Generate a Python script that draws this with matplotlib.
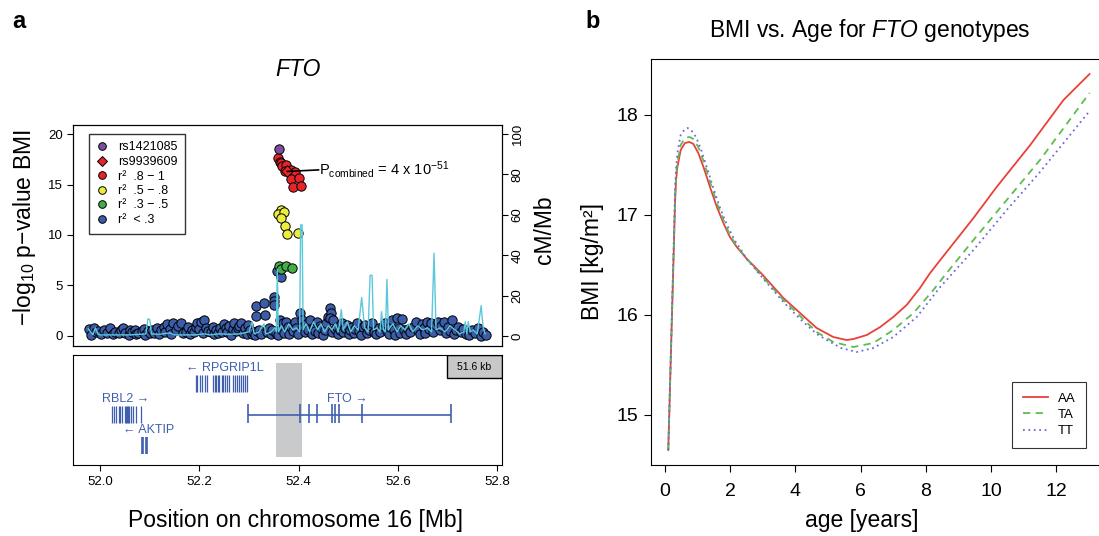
import numpy as np
import matplotlib
matplotlib.use("Agg")
import matplotlib.pyplot as plt
from matplotlib.lines import Line2D
from matplotlib.patches import Rectangle

plt.rcParams['font.family'] = ['Liberation Sans', 'DejaVu Sans']
plt.rcParams['mathtext.fontset'] = 'custom'
plt.rcParams['mathtext.rm'] = 'Liberation Sans'
plt.rcParams['mathtext.it'] = 'Liberation Sans:italic'
plt.rcParams['mathtext.default'] = 'regular'

# ---------------- panel a data ----------------
# background SNPs (r2 < .3): position [Mb], -log10 p
bg_pos = [51.978, 51.982, 51.987, 51.991, 51.996, 52.002, 52.008, 52.013, 52.020, 52.025,
          52.030, 52.037, 52.041, 52.045, 52.050, 52.057, 52.060, 52.064, 52.070, 52.073,
          52.077, 52.084, 52.088, 52.091, 52.096, 52.100, 52.105, 52.108, 52.114, 52.118,
          52.122, 52.128, 52.131, 52.135, 52.140, 52.143, 52.147, 52.152, 52.156, 52.162,
          52.166, 52.172, 52.176, 52.180, 52.184, 52.189, 52.193, 52.196, 52.200, 52.203,
          52.207, 52.210, 52.214, 52.218, 52.223, 52.227, 52.230, 52.234, 52.237, 52.241,
          52.245, 52.250, 52.253, 52.256, 52.260, 52.263, 52.267, 52.270, 52.273, 52.277,
          52.280, 52.284, 52.288, 52.291, 52.295, 52.298, 52.302, 52.305, 52.308, 52.312,
          52.314, 52.314, 52.317, 52.321, 52.325, 52.330, 52.333, 52.336, 52.341, 52.344,
          52.347, 52.350, 52.350, 52.351, 52.354, 52.357, 52.364, 52.359, 52.362, 52.365,
          52.368, 52.371, 52.375, 52.378, 52.381, 52.385, 52.388, 52.392, 52.395, 52.398,
          52.402, 52.406, 52.409, 52.412, 52.415, 52.418, 52.422, 52.426, 52.430, 52.433,
          52.436, 52.440, 52.443, 52.446, 52.450, 52.453, 52.456, 52.460, 52.464, 52.465,
          52.463, 52.467, 52.470, 52.474, 52.477, 52.480, 52.484, 52.487, 52.490, 52.494,
          52.497, 52.501, 52.504, 52.507, 52.511, 52.514, 52.517, 52.521, 52.525, 52.529,
          52.534, 52.538, 52.541, 52.545, 52.548, 52.552, 52.556, 52.561, 52.565, 52.570,
          52.575, 52.578, 52.582, 52.585, 52.588, 52.592, 52.595, 52.598, 52.602, 52.605,
          52.609, 52.612, 52.616, 52.620, 52.625, 52.630, 52.636, 52.640, 52.644, 52.648,
          52.652, 52.655, 52.659, 52.663, 52.667, 52.671, 52.676, 52.680, 52.684, 52.688,
          52.693, 52.697, 52.701, 52.706, 52.710, 52.714, 52.717, 52.722, 52.727, 52.732,
          52.737, 52.744, 52.750, 52.756, 52.762, 52.767, 52.772, 52.777]
bg_logp = [0.66, 0.05, 0.82, 0.35, 0.53, 0.20, 0.60, 0.30, 0.76, 0.15,
           0.43, 0.27, 0.55, 0.76, 0.33, 0.10, 0.60, 0.43, 0.60, 0.20,
           0.33, 0.53, 0.70, 0.10, 0.45, 0.25, 0.60, 0.33, 0.76, 0.15,
           0.60, 0.92, 0.40, 1.16, 0.65, 0.20, 1.26, 0.60, 0.95, 1.32,
           0.30, 0.43, 0.85, 0.15, 0.60, 0.43, 0.90, 1.26, 0.70, 1.42,
           0.25, 1.59, 0.80, 0.50, 0.43, 0.90, 0.20, 0.60, 0.27, 0.75,
           0.35, 1.19, 0.80, 0.40, 0.95, 0.10, 0.70, 1.32, 0.50, 0.76,
           1.00, 1.26, 0.30, 0.80, 0.15, 1.09, 0.55, 0.20, 0.43, 0.10,
           1.98, 2.98, 0.50, 0.60, 0.20, 3.30, 2.08, 0.40, 0.76, 0.15,
           0.55, 3.90, 3.45, 3.07, 0.30, 6.45, 5.82, 0.10, 1.59, 0.70,
           1.26, 0.30, 1.42, 0.90, 0.20, 0.92, 0.50, 1.42, 0.80, 0.15,
           2.31, 1.59, 0.90, 0.40, 1.20, 0.60, 1.59, 0.20, 0.90, 0.50,
           1.42, 0.30, 1.00, 0.76, 0.10, 0.60, 1.26, 1.91, 2.75, 2.31,
           1.75, 0.40, 1.59, 0.70, 0.92, 0.20, 0.60, 1.26, 0.35, 0.80,
           1.09, 0.15, 0.55, 0.92, 0.30, 0.70, 1.26, 0.45, 0.10, 0.85,
           1.09, 0.30, 0.60, 0.95, 1.26, 0.40, 0.15, 0.76, 0.40, 1.00,
           1.26, 0.50, 0.20, 0.90, 1.59, 0.60, 0.10, 1.75, 0.80, 0.30,
           1.65, 0.60, 0.20, 0.70, 0.35, 0.90, 1.42, 0.60, 0.15, 1.20,
           0.80, 0.30, 1.42, 0.70, 1.30, 0.40, 1.09, 1.40, 0.60, 1.00,
           1.42, 0.30, 0.90, 0.50, 1.59, 0.20, 0.60, 0.90, 0.35, 0.70,
           0.15, 0.10, 0.60, 0.30, 0.80, 0.03, 0.40, 0.10]

green_pos = [52.360, 52.365, 52.375, 52.387]
green_logp = [6.97, 6.65, 6.88, 6.71]
yellow_pos = [52.365, 52.358, 52.370, 52.364, 52.373, 52.377, 52.398]
yellow_logp = [12.43, 12.10, 12.23, 11.67, 10.91, 10.09, 10.15]
red_pos = [52.358, 52.362, 52.365, 52.367, 52.375, 52.372, 52.385, 52.392,
           52.384, 52.401, 52.389, 52.404]
red_logp = [17.62, 17.19, 17.13, 16.80, 16.96, 16.30, 16.47, 16.20,
            15.54, 15.64, 14.72, 14.82]
rs1421085 = (52.360, 18.52)
rs9939609 = (52.377, 16.30)

# recombination rate [cM/Mb]
rec_pos = [51.976, 51.985, 51.990, 51.995, 52.000, 52.020, 52.040, 52.060, 52.080, 52.092,
           52.096, 52.100, 52.103, 52.120, 52.140, 52.150, 52.170, 52.190, 52.210, 52.220,
           52.240, 52.260, 52.280, 52.300, 52.306, 52.310, 52.320, 52.330, 52.334, 52.345,
           52.352, 52.355, 52.357, 52.359, 52.365, 52.372, 52.380, 52.388, 52.395, 52.402,
           52.404, 52.407, 52.409, 52.415, 52.422, 52.430, 52.438, 52.445, 52.452, 52.460,
           52.467, 52.474, 52.480, 52.486, 52.490, 52.498, 52.505, 52.512, 52.520, 52.527,
           52.533, 52.540, 52.544, 52.548, 52.551, 52.558, 52.564, 52.567, 52.571, 52.575,
           52.578, 52.581, 52.590, 52.598, 52.606, 52.614, 52.622, 52.630, 52.640, 52.650,
           52.660, 52.668, 52.673, 52.677, 52.685, 52.695, 52.705, 52.715, 52.725, 52.733,
           52.736, 52.739, 52.742, 52.746, 52.752, 52.760, 52.768, 52.772, 52.776]
rec_rate = [3.5, 0.5, 4, 1, 0.5, 0.5, 0.5, 0.5, 0.8, 1,
            8.5, 8, 1, 0.8, 1.5, 0.5, 0.5, 0.5, 1, 0.5,
            1, 0.8, 1, 2, 7, 1, 2, 6, 1, 2,
            4, 2, 33, 2, 5, 2, 6, 3, 4, 2,
            55, 55, 3, 6, 2, 7, 3, 6, 2, 5,
            3, 6, 2, 13, 3, 7, 2, 5, 3, 19,
            4, 2, 30, 30, 3, 4, 2, 12, 3, 2,
            28, 3, 6, 2, 5, 3, 6, 2, 5, 3,
            4, 2, 41, 3, 4, 2, 5, 3, 1, 2,
            7, 1, 7, 2, 3, 1, 15, 4, 1]

# genes: exon positions [Mb]
rpgrip1l_exons = [52.193, 52.196, 52.201, 52.206, 52.212, 52.215, 52.228, 52.231, 52.234,
                  52.237, 52.240, 52.245, 52.248, 52.252, 52.256, 52.260, 52.268, 52.272,
                  52.276, 52.280, 52.284, 52.288, 52.292, 52.296]
rbl2_exons = [52.024, 52.028, 52.032, 52.037, 52.040, 52.044, 52.049, 52.051, 52.053,
              52.055, 52.058, 52.061, 52.066, 52.073, 52.083]
aktip_exons = [52.084, 52.086, 52.092, 52.094]
fto_span = (52.298, 52.708)
fto_exons = [52.298, 52.402, 52.420, 52.436, 52.467, 52.473, 52.481, 52.527, 52.708]
highlight = (52.355, 52.406)

# ---------------- panel b data ----------------
age_aa = [0.10, 0.26, 0.31, 0.34, 0.38, 0.48, 0.61, 0.75, 0.87, 1.02, 1.18, 1.38, 1.59,
          1.79, 1.99, 2.20, 2.51, 2.97, 3.30, 3.63, 4.14, 4.65, 5.16, 5.57, 5.78, 6.19,
          6.60, 7.00, 7.41, 7.82, 8.13, 8.49, 9.46, 10.17, 11.20, 12.22, 13.02]
bmi_aa = [14.65, 16.55, 17.15, 17.35, 17.48, 17.65, 17.72, 17.73, 17.71, 17.62, 17.48,
          17.28, 17.08, 16.92, 16.78, 16.68, 16.56, 16.41, 16.29, 16.17, 16.02, 15.87,
          15.78, 15.75, 15.76, 15.80, 15.88, 15.98, 16.10, 16.27, 16.42, 16.57, 16.97,
          17.28, 17.70, 18.15, 18.41]
age_ta = [0.10, 0.26, 0.31, 0.34, 0.38, 0.48, 0.61, 0.75, 0.87, 1.02, 1.18, 1.38, 1.59,
          1.79, 1.99, 2.20, 2.51, 2.97, 3.63, 4.14, 4.65, 5.16, 5.78, 6.39, 7.00, 7.62,
          8.23, 8.54, 9.46, 10.48, 11.50, 13.02]
bmi_ta = [14.65, 16.58, 17.20, 17.40, 17.53, 17.70, 17.77, 17.78, 17.76, 17.68, 17.54,
          17.33, 17.12, 16.95, 16.80, 16.69, 16.56, 16.39, 16.15, 15.99, 15.83, 15.73,
          15.68, 15.72, 15.85, 16.02, 16.25, 16.38, 16.75, 17.15, 17.55, 18.22]
age_tt = [0.10, 0.26, 0.31, 0.34, 0.38, 0.48, 0.61, 0.69, 0.80, 0.95, 1.10, 1.30, 1.50,
          1.70, 1.90, 2.15, 2.51, 2.97, 3.63, 4.14, 4.65, 4.96, 5.40, 5.88, 6.39, 7.00,
          7.72, 8.44, 9.46, 10.48, 11.50, 13.02]
bmi_tt = [14.65, 16.62, 17.28, 17.47, 17.62, 17.80, 17.86, 17.87, 17.85, 17.78, 17.66,
          17.46, 17.25, 17.06, 16.90, 16.74, 16.56, 16.38, 16.13, 15.96, 15.81, 15.75,
          15.67, 15.63, 15.67, 15.78, 15.98, 16.28, 16.65, 17.05, 17.43, 18.04]

W, H = 1099, 536
fig = plt.figure(figsize=(W / 100, H / 100), dpi=100)

c_blue, c_green, c_yellow = '#3b5ca9', '#45ac4a', '#ecec3e'
c_red, c_purple, c_cyan = '#e8242a', '#7a4f9e', '#5cc8dc'
c_gene = '#3f5fae'

# ---- panel a: association plot ----
ax = fig.add_axes([73 / W, 1 - 346 / H, 429 / W, 221 / H])
ax.set_xlim(51.945, 52.81)
ax.set_ylim(-1.0, 20.9)
ax.set_xticks([])
ax.set_yticks([0, 5, 10, 15, 20])
ax.tick_params(axis='y', direction='out', length=4, labelsize=9.5, pad=3)

kw = dict(s=45, edgecolors='black', linewidths=0.7, zorder=3)
ax.scatter(bg_pos, bg_logp, color=c_blue, **kw)
ax.scatter(green_pos, green_logp, color=c_green, **kw)
ax.scatter(yellow_pos, yellow_logp, color=c_yellow, **kw)
ax.scatter(red_pos, red_logp, color=c_red, **kw)
ax.scatter(*rs9939609, color=c_red, marker='D', s=35, edgecolors='black', linewidths=0.7, zorder=4)
ax.scatter(*rs1421085, color=c_purple, **kw)

ax.plot([rs9939609[0], 52.440], [rs9939609[1], 16.45], color='black', lw=1.2, zorder=5)
ax.text(52.441, 16.45, r'P$_{\mathrm{combined}}$ = 4 x 10$^{-51}$', fontsize=10.5,
        va='center', ha='left', zorder=5)

handles = [Line2D([], [], ls='', marker='o', mfc=c_purple, mec='black', ms=5.5, mew=0.7),
           Line2D([], [], ls='', marker='D', mfc=c_red, mec='black', ms=5, mew=0.7),
           Line2D([], [], ls='', marker='o', mfc=c_red, mec='black', ms=5.5, mew=0.7),
           Line2D([], [], ls='', marker='o', mfc=c_yellow, mec='black', ms=5.5, mew=0.7),
           Line2D([], [], ls='', marker='o', mfc=c_green, mec='black', ms=5.5, mew=0.7),
           Line2D([], [], ls='', marker='o', mfc=c_blue, mec='black', ms=5.5, mew=0.7)]
labels = ['rs1421085', 'rs9939609', 'r²  .8 − 1', 'r²  .5 − .8', 'r²  .3 − .5', 'r²  < .3']
leg = ax.legend(handles, labels, loc='upper left', bbox_to_anchor=(89 / W, 1 - 134 / H),
                bbox_transform=fig.transFigure, fontsize=9, frameon=True, fancybox=False,
                edgecolor='black', handlelength=0.8, handletextpad=0.9, labelspacing=0.2,
                borderpad=0.6, borderaxespad=0)
leg.get_frame().set_linewidth(1.0)
leg.set_zorder(6)

ax2 = ax.twinx()
ax2.set_ylim(-5, 104.5)
ax2.plot(rec_pos, rec_rate, color=c_cyan, lw=1.0)
ax2.set_yticks([0, 20, 40, 60, 80, 100])
ax2.tick_params(axis='y', direction='out', length=4, labelsize=9.5, pad=3)
for t in ax2.get_yticklabels():
    t.set_rotation(90)
    t.set_va('center')

# ---- gene track ----
gax = fig.add_axes([73 / W, 1 - 465 / H, 429 / W, 110 / H])
gax.set_xlim(51.945, 52.81)
gax.set_ylim(1, 0)
gax.set_yticks([])
gax.set_xticks([52.0, 52.2, 52.4, 52.6, 52.8])
gax.set_xticklabels(['52.0', '52.2', '52.4', '52.6', '52.8'])
gax.tick_params(axis='x', direction='out', length=4, labelsize=9.5, pad=4)

gax.fill_betweenx([0.073, 0.927], highlight[0], highlight[1], color='#c8cacc', lw=0)
gax.vlines(rpgrip1l_exons, 0.182, 0.333, color=c_gene, lw=0.9)
gax.vlines(rbl2_exons, 0.464, 0.615, color=c_gene, lw=0.9)
gax.vlines(aktip_exons, 0.748, 0.90, color=c_gene, lw=1.2)
gax.hlines(0.545, fto_span[0], fto_span[1], color=c_gene, lw=1.2)
gax.vlines(fto_exons, 0.445, 0.615, color=c_gene, lw=1.2)
gkw = dict(color=c_gene, fontsize=9, ha='center', va='center')
gax.text(52.252, 0.115, '← RPGRIP1L', **gkw)
gax.text(52.052, 0.40, 'RBL2 →', **gkw)
gax.text(52.097, 0.68, '← AKTIP', **gkw)
gax.text(52.499, 0.40, 'FTO →', **gkw)
gax.add_patch(Rectangle((0.872, 0.791), 0.128, 0.209, transform=gax.transAxes,
                        facecolor='#c8c8c8', edgecolor='black', lw=1.0))
gax.text(0.936, 0.895, '51.6 kb', transform=gax.transAxes, fontsize=7.5,
         ha='center', va='center')

fig.text(12 / W, 1 - 22 / H, 'a', fontsize=17, fontweight='bold', va='center', ha='left')
fig.text(298 / W, 1 - 70 / H, 'FTO', fontsize=16.5, fontstyle='italic', ha='center', va='center')
fig.text(25 / W, 1 - 228 / H, '−log$_{10}$ p−value BMI', fontsize=16.5, rotation=90,
         ha='center', va='center')
fig.text(545 / W, 1 - 230 / H, 'cM/Mb', fontsize=16.5, rotation=90, ha='center', va='center')
fig.text(295 / W, 1 - 521 / H, 'Position on chromosome 16 [Mb]', fontsize=16.5,
         ha='center', va='center')

# ---- panel b: BMI vs age ----
bx = fig.add_axes([651 / W, 1 - 465 / H, 449 / W, 406 / H])
bx.set_xlim(-0.43, 13.34)
bx.set_ylim(14.5, 18.56)
bx.spines['right'].set_visible(False)
bx.plot(age_aa, bmi_aa, color='#e8413a', lw=1.3, label='AA')
bx.plot(age_ta, bmi_ta, color='#5fbb4f', lw=1.3, ls=(0, (4, 3)), label='TA')
bx.plot(age_tt, bmi_tt, color='#6b6bd8', lw=1.3, ls=(0, (1, 2)), label='TT')
bx.set_xticks([0, 2, 4, 6, 8, 10, 12])
bx.set_yticks([15, 16, 17, 18])
bx.tick_params(direction='out', length=5, labelsize=14)
bx.tick_params(axis='x', pad=8)
bx.tick_params(axis='y', pad=4)
lg = bx.legend(loc='upper left', bbox_to_anchor=(1012 / W, 1 - 382 / H),
               bbox_transform=fig.transFigure, fontsize=9.5, frameon=True, fancybox=False,
               edgecolor='black', handlelength=1.9, handletextpad=0.8, labelspacing=0.3,
               borderpad=0.8, borderaxespad=0)
lg.get_frame().set_linewidth(0.8)

fig.text(585 / W, 1 - 22 / H, 'b', fontsize=17, fontweight='bold', va='center', ha='left')
fig.text(870 / W, 1 - 31 / H, r'BMI vs. Age for $\mathit{FTO}$ genotypes', fontsize=16.5,
         ha='center', va='center')
fig.text(592 / W, 1 - 262 / H, 'BMI [kg/m²]', fontsize=16.5, rotation=90,
         ha='center', va='center')
fig.text(862 / W, 1 - 520 / H, 'age [years]', fontsize=16.5, ha='center', va='center')

fig.savefig('out.png', dpi=100)
